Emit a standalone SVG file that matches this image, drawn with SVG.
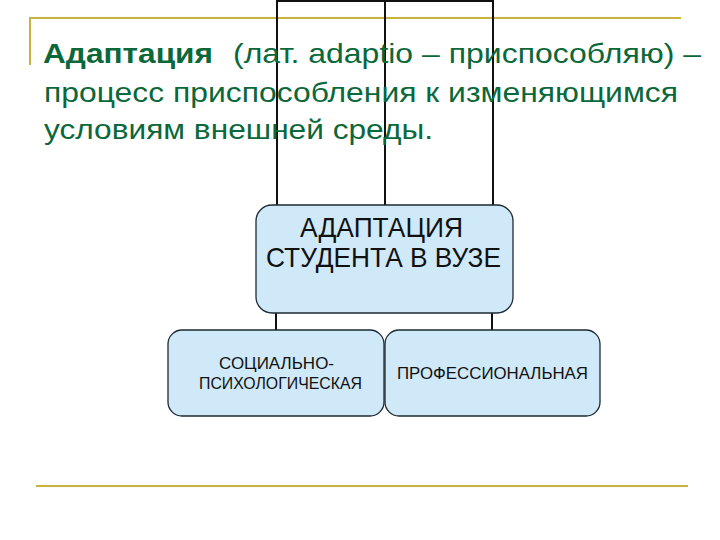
<svg xmlns="http://www.w3.org/2000/svg" width="720" height="540" viewBox="0 0 720 540">
<style>
.deco{stroke:#c8b43c;stroke-width:2;fill:none}
.title{font-family:"Liberation Sans",Arial,sans-serif;font-size:28px;fill:#0b683a}
.box{fill:#cfe9f9;stroke:#1c2a33;stroke-width:1.3}
.big{font-family:"Liberation Sans",Arial,sans-serif;font-size:27.5px;fill:#111}
.small{font-family:"Liberation Sans",Arial,sans-serif;font-size:17px;fill:#111}
.conn{stroke:#111;stroke-width:2;fill:none}
</style>
<rect width="720" height="540" fill="#fff"/>
<g id="decor">
<path class="deco" d="M30 65 V18 H681"/>
<path class="deco" d="M36 486 H688"/>
</g>
<g id="connectors">
<path class="conn" d="M277 205 V1 H493 V205"/>
<path class="conn" d="M385 1 V205"/>
<path class="conn" d="M276 313 V330"/>
<path class="conn" d="M492 313 V330"/>
</g>
<g id="title">
<text class="title" x="43" y="63" font-weight="bold" textLength="170" lengthAdjust="spacingAndGlyphs">Адаптация</text>
<text class="title" x="233" y="63" textLength="468" lengthAdjust="spacingAndGlyphs">(лат. adaptio – приспособляю) –</text>
<text class="title" x="44" y="102" textLength="634" lengthAdjust="spacingAndGlyphs">процесс приспособления к изменяющимся</text>
<text class="title" x="44" y="139" textLength="389" lengthAdjust="spacingAndGlyphs">условиям внешней среды.</text>
</g>
<g id="node-main">
<rect class="box" x="256" y="205" width="257" height="108" rx="16"/>
<text class="big" x="300" y="237" textLength="163" lengthAdjust="spacingAndGlyphs">АДАПТАЦИЯ</text>
<text class="big" x="266" y="267" textLength="235" lengthAdjust="spacingAndGlyphs">СТУДЕНТА В ВУЗЕ</text>
</g>
<g id="node-social">
<rect class="box" x="168" y="330" width="216" height="86" rx="14"/>
<text class="small" x="219" y="369" textLength="115" lengthAdjust="spacingAndGlyphs">СОЦИАЛЬНО-</text>
<text class="small" x="199" y="389" textLength="163" lengthAdjust="spacingAndGlyphs">ПСИХОЛОГИЧЕСКАЯ</text>
</g>
<g id="node-prof">
<rect class="box" x="385" y="330" width="215" height="86" rx="14"/>
<text class="small" x="397" y="379" textLength="191" lengthAdjust="spacingAndGlyphs">ПРОФЕССИОНАЛЬНАЯ</text>
</g>
</svg>
